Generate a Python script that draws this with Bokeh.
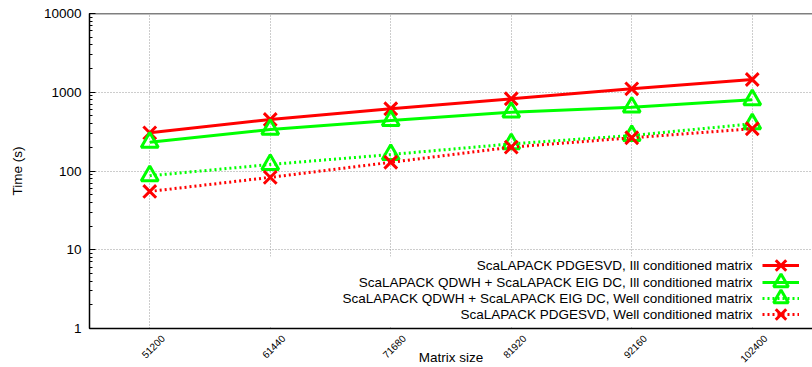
import math
from bokeh.plotting import figure
from bokeh.models import (Range1d, FixedTicker, LogTicker, Legend, LegendItem, Label,
                          Span, BoxAnnotation)
from bokeh.embed import file_html
from bokeh.resources import INLINE

# ---- data ----
matrix_size = [51200, 61440, 71680, 81920, 92160, 102400]
x_tick_labels = ["51200", "61440", "71680", "81920", "92160", "102400"]
pdgesvd_ill = [305, 451, 617, 826, 1106, 1452]
qdwh_ill = [232, 337, 438, 558, 646, 802]
qdwh_well = [87, 121, 162, 221, 282, 398]
pdgesvd_well = [55, 83, 129, 201, 264, 344]
y_ticks = [1, 10, 100, 1000, 10000]
legend_labels = [
    "ScaLAPACK PDGESVD, Ill conditioned matrix",
    "ScaLAPACK QDWH + ScaLAPACK EIG DC, Ill conditioned matrix",
    "ScaLAPACK QDWH + ScaLAPACK EIG DC, Well conditioned matrix",
    "ScaLAPACK PDGESVD, Well conditioned matrix",
]

FONT = "Liberation Sans"
RED = "#ff0000"
GREEN = "#00ff00"

X_START, X_END = 46080, 107520
FRAME_W = 812 - 89
# gnuplot places rotated tick labels a little to the right of the tick
label_shift = 13 * (X_END - X_START) / FRAME_W
label_pos = [v + label_shift for v in matrix_size]

p = figure(width=812, height=367, y_axis_type="log",
           x_range=Range1d(X_START, X_END), y_range=Range1d(1, 10000),
           output_backend="svg", toolbar_location=None,
           min_border_left=89, min_border_right=0, min_border_top=13, min_border_bottom=0)
p.outline_line_color = None
p.background_fill_color = "white"

# x axis (labels sit slightly right of the ticks, like gnuplot)
xa = p.xaxis[0]
xa.ticker = FixedTicker(ticks=label_pos)
xa.major_label_overrides = {v: s for v, s in zip(label_pos, x_tick_labels)}
xa.major_label_orientation = math.pi / 4
xa.major_label_text_font = FONT
xa.major_label_text_font_size = "10px"
xa.major_label_text_line_height = 1.0
xa.major_label_text_color = "black"
xa.major_label_standoff = 2
xa.major_tick_line_color = None
xa.minor_tick_line_color = None
xa.axis_line_width = 1.5
xa.axis_line_color = "black"
xa.axis_label = "Matrix size"
xa.axis_label_text_font = FONT
xa.axis_label_text_font_size = "13.5px"
xa.axis_label_text_line_height = 1.0
xa.axis_label_text_font_style = "normal"
xa.axis_label_text_color = "black"
xa.axis_label_standoff = -19

ya = p.yaxis[0]
ya.ticker = LogTicker(num_minor_ticks=10)
ya.major_label_overrides = {v: str(v) for v in y_ticks}
ya.major_label_text_font = FONT
ya.major_label_text_font_size = "13.5px"
ya.major_label_text_color = "black"
ya.major_label_standoff = 8
ya.major_tick_in = 6
ya.major_tick_out = 0
ya.minor_tick_in = 3
ya.minor_tick_out = 0
ya.axis_line_width = 1.5
ya.axis_line_color = "black"
ya.axis_label = "Time (s)"
ya.axis_label_text_font = FONT
ya.axis_label_text_font_size = "13.5px"
ya.axis_label_text_font_style = "normal"
ya.axis_label_text_color = "black"
ya.axis_label_standoff = 16

# top border of the frame
p.add_layout(Span(location=10000, dimension="width", line_color="black", line_width=1.5))

# grid
p.xgrid.ticker = FixedTicker(ticks=matrix_size)
for g in (p.xgrid[0], p.ygrid[0]):
    g.grid_line_color = "#9a9a9a"
    g.grid_line_dash = "1 2"
    g.grid_line_width = 1

# series
series = [
    (pdgesvd_ill, RED, "solid", "x", 18),
    (qdwh_ill, GREEN, "solid", "triangle", 17),
    (qdwh_well, GREEN, "2 3", "triangle", 17),
    (pdgesvd_well, RED, "2 3", "x", 18),
]
renderers = []
for vals, col, dash, mk, sz in series:
    ln = p.line(matrix_size, vals, line_color=col, line_width=3, line_dash=dash)
    sc = p.scatter(matrix_size, vals, marker=mk, size=sz, line_color=col, fill_color=None, line_width=3)
    renderers.append([ln, sc])

# white key box (gnuplot style)
p.add_layout(BoxAnnotation(left=150, right=723, bottom=2, top=72,
                           left_units="screen", right_units="screen",
                           bottom_units="screen", top_units="screen",
                           fill_color="white", fill_alpha=1.0, line_color=None))

# key: text right-aligned, sample to the right of the text
row_center = [63, 46.4, 30.2, 13.7]
for i, (lab, rr) in enumerate(zip(legend_labels, renderers)):
    leg = Legend(items=[LegendItem(label=" ", renderers=rr)],
                 location=(673, row_center[i] - 20), glyph_width=37, glyph_height=40,
                 label_height=16, label_width=0, label_standoff=0, spacing=0, padding=0,
                 margin=0, border_line_color=None, background_fill_alpha=0.0,
                 label_text_font_size="13px")
    p.add_layout(leg, "center")
    p.add_layout(Label(x=663, y=row_center[i], x_units="screen", y_units="screen", text=lab,
                       text_align="right", text_baseline="middle", text_font=FONT,
                       text_font_size="13.5px", text_color="black"))

open("out.html", "w").write(file_html(p, INLINE))
